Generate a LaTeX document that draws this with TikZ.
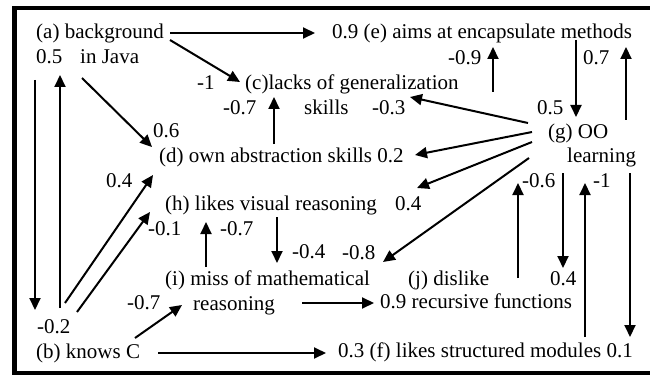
\documentclass[tikz,border=0pt]{standalone}
\usepackage{fontspec}
\setmainfont{Liberation Serif}
\usetikzlibrary{arrows.meta}
\begin{document}
\begin{tikzpicture}[x=1pt,y=-1pt,
  lbl/.style={anchor=base west,inner sep=0pt,font=\fontsize{21}{24}\selectfont},
  arr/.style={line width=2pt,-{Triangle[length=12pt,width=11pt]}},
  frame/.style={line width=4.5pt}]
\useasboundingbox (0,0) rectangle (650,377);
% frame
\draw[frame] (650,8) -- (14.5,8) -- (14.5,373) -- (650,373);
% texts
\node[lbl] (a) at (36,39) {(a) background};
\node[lbl] (a05) at (36,64) {0.5};
\node[lbl] (a2) at (80,64) {in Java};
\node[lbl] (e) at (332,39) {0.9 (e) aims at encapsulate methods};
\node[lbl] (cm1) at (197,90) {-1};
\node[lbl] (c) at (245,90) {(c)lacks of generalization};
\node[lbl] (cm07) at (223,115) {-0.7};
\node[lbl] (c2) at (304,115) {skills};
\node[lbl] (cm03) at (372,115) {-0.3};
\node[lbl] (em09) at (448,65) {-0.9};
\node[lbl] (e07) at (583,65) {0.7};
\node[lbl] (g05) at (537,114) {0.5};
\node[lbl] (g) at (548,139) {(g) OO};
\node[lbl] (g2) at (567,162) {learning};
\node[lbl] (d06) at (153,138) {0.6};
\node[lbl] (d) at (159,162) {(d) own abstraction skills 0.2};
\node[lbl] (d04) at (106,187) {0.4};
\node[lbl] (h) at (165,210) {(h) likes visual reasoning};
\node[lbl] (h04) at (395,210) {0.4};
\node[lbl] (gm06) at (522,187) {-0.6};
\node[lbl] (gm1) at (593,187) {-1};
\node[lbl] (hm01) at (148,235) {-0.1};
\node[lbl] (hm07) at (220,235) {-0.7};
\node[lbl] (im04) at (292,258) {-0.4};
\node[lbl] (im08) at (342,259) {-0.8};
\node[lbl] (i) at (165,285) {(i) miss of mathematical};
\node[lbl] (j) at (408,285) {(j) dislike};
\node[lbl] (j04) at (550,285) {0.4};
\node[lbl] (im07) at (127,309) {-0.7};
\node[lbl] (i2) at (193,310) {reasoning};
\node[lbl] (j2) at (380,308) {0.9 recursive functions};
\node[lbl] (bm02) at (37,333) {-0.2};
\node[lbl] (b) at (36,358) {(b) knows C};
\node[lbl] (f) at (338,357) {0.3 (f) likes structured modules 0.1};
% connector end points
\coordinate (p1s) at (170,33);  \coordinate (p1e) at (315,33);
\coordinate (p2s) at (170,40);  \coordinate (p2e) at (240,82);
\coordinate (p3s) at (82,78);   \coordinate (p3e) at (152,147);
\coordinate (p4s) at (35,80);   \coordinate (p4e) at (35,310);
\coordinate (p5s) at (60,308);  \coordinate (p5e) at (60,75);
\coordinate (p6s) at (65,303);  \coordinate (p6e) at (153,175);
\coordinate (p7s) at (77,312);  \coordinate (p7e) at (150,212);
\coordinate (p8s) at (135,338); \coordinate (p8e) at (182,305);
\coordinate (p9s) at (158,353); \coordinate (p9e) at (326,353);
\coordinate (p10s) at (274,144); \coordinate (p10e) at (274,97);
\coordinate (p11s) at (493,92);  \coordinate (p11e) at (493,47);
\coordinate (p12s) at (576,40);  \coordinate (p12e) at (576,117);
\coordinate (p13s) at (626,120); \coordinate (p13e) at (626,47);
\coordinate (p14s) at (528,123); \coordinate (p14e) at (410,97);
\coordinate (p15s) at (532,132); \coordinate (p15e) at (415,155);
\coordinate (p16s) at (532,142); \coordinate (p16e) at (417,188);
\coordinate (p17s) at (529,158); \coordinate (p17e) at (383,262);
\coordinate (p18s) at (518,278); \coordinate (p18e) at (518,183);
\coordinate (p19s) at (563,173); \coordinate (p19e) at (563,268);
\coordinate (p20s) at (585,337); \coordinate (p20e) at (585,183);
\coordinate (p21s) at (630,173); \coordinate (p21e) at (630,337);
\coordinate (p22s) at (277,217); \coordinate (p22e) at (277,263);
\coordinate (p23s) at (206,267); \coordinate (p23e) at (206,222);
\coordinate (p24s) at (302,303); \coordinate (p24e) at (374,303);
% connectors
\foreach \k in {1,...,24} {\draw[arr] (p\k s) -- (p\k e);}
\end{tikzpicture}
\end{document}
